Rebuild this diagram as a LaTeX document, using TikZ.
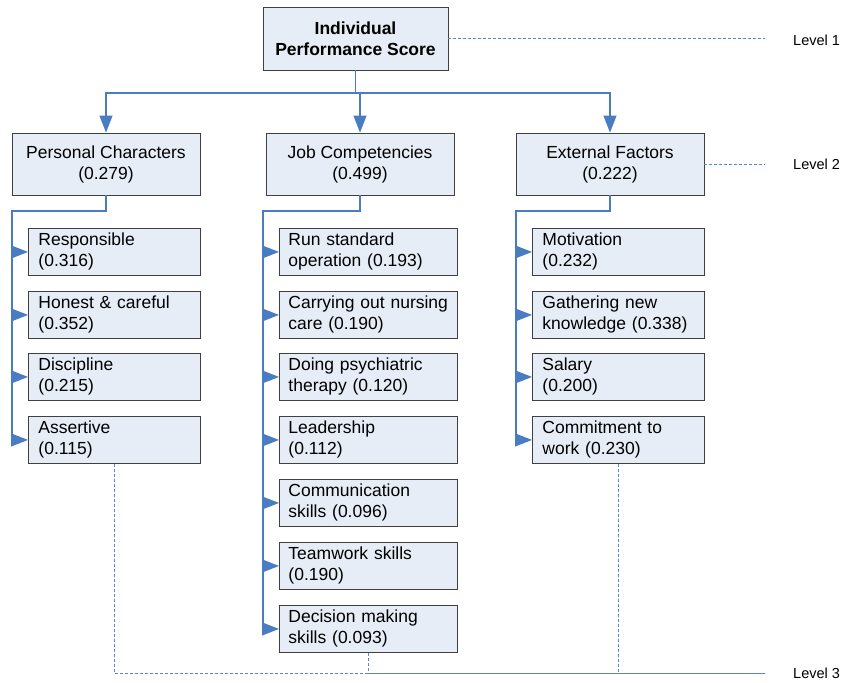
\documentclass[tikz,border=0pt]{standalone}
\usepackage{fontspec}
\setmainfont{Liberation Sans}
\usetikzlibrary{arrows.meta}
\definecolor{boxfill}{HTML}{E7EDF7}
\definecolor{boxline}{HTML}{404040}
\definecolor{linkblue}{HTML}{4A7CC4}
\definecolor{lvlblue}{HTML}{5B86CC}
\tikzset{
  box/.style={draw=boxline, line width=0.9pt, fill=boxfill, inner ysep=3pt,
    font=\fontsize{17.5}{21}\selectfont},
  topbox/.style={box, minimum width=185pt, minimum height=63pt, align=center,
    font=\fontsize{17.5}{21}\selectfont\bfseries},
  catbox/.style={box, minimum width=188pt, minimum height=62pt, align=center},
  leaf/.style={box, anchor=north west, minimum height=47pt, inner xsep=10pt,
    text width=152pt, align=left},
  leafwide/.style={leaf, inner xsep=9pt, text width=160pt},
  link/.style={draw=linkblue, line width=1.1pt},
  tip/.style={link, -{Triangle[length=17pt,width=13pt]}},
  lvl/.style={draw=lvlblue, line width=0.8pt, dash pattern=on 3pt off 2pt},
  lvllabel/.style={anchor=west, inner sep=0pt, font=\fontsize{14.5}{17}\selectfont}
}
\begin{document}
\begin{tikzpicture}[x=1pt,y=-1pt]
  \useasboundingbox (0,0) rectangle (844,683);
  % level 1
  \node[topbox] (ips) at (355.5,38.5) {Individual\\Performance Score};
  % level 2
  \node[catbox] (pers) at (106,164) {Personal Characters\\(0.279)};
  \node[catbox] (job) at (360,164) {Job Competencies\\(0.499)};
  \node[catbox] (ext) at (610,164) {External Factors\\(0.222)};
  % level 3
  \node[leaf] (resp) at (28,228) {Responsible\\(0.316)};
  \node[leaf] (hon) at (28,291) {Honest \& careful\\(0.352)};
  \node[leaf] (disc) at (28,353) {Discipline\\(0.215)};
  \node[leaf] (asrt) at (28,416) {Assertive\\(0.115)};
  \node[leafwide] (run) at (279,228) {Run standard\\operation (0.193)};
  \node[leafwide] (care) at (279,291) {Carrying out nursing\\care (0.190)};
  \node[leafwide] (psy) at (279,353) {Doing psychiatric\\therapy (0.120)};
  \node[leafwide] (lead) at (279,416) {Leadership\\(0.112)};
  \node[leafwide] (comm) at (279,479) {Communication\\skills (0.096)};
  \node[leafwide] (team) at (279,542) {Teamwork skills\\(0.190)};
  \node[leafwide] (deci) at (279,605) {Decision making\\skills (0.093)};
  \node[leaf] (moti) at (532,228) {Motivation\\(0.232)};
  \node[leaf] (gath) at (532,291) {Gathering new\\knowledge (0.338)};
  \node[leaf] (sal) at (532,353) {Salary\\(0.200)};
  \node[leaf] (cmt) at (532,416) {Commitment to\\work (0.230)};
  % bus points
  \coordinate (tbus) at (355.5,93);
  \coordinate (pbus) at (12,211);
  \coordinate (jbus) at (263,211);
  \coordinate (ebus) at (516,211);
  \foreach \c in {pers,job,ext}
    \draw[tip] (ips.south) |- (tbus) -| (\c);
  \foreach \c in {resp,hon,disc,asrt}
    \draw[tip] (pers.south) |- (pbus) |- (\c);
  \foreach \c in {run,care,psy,lead,comm,team,deci}
    \draw[tip] (job.south) |- (jbus) |- (\c);
  \foreach \c in {moti,gath,sal,cmt}
    \draw[tip] (ext.south) |- (ebus) |- (\c);
  % levels
  \node[lvllabel] (lv1) at (793,40) {Level 1};
  \node[lvllabel] (lv2) at (793,164) {Level 2};
  \node[lvllabel] (lv3) at (793,673) {Level 3};
  \coordinate (l1) at (765,38.5);
  \coordinate (l2) at (765,164);
  \coordinate (l3) at (765,673);
  \draw[lvl] (ips.east) -- (l1);
  \draw[lvl] (ext.east) -- (l2);
  \foreach \c in {asrt,deci,cmt}
    \draw[lvl] (\c.south) |- (l3);
\end{tikzpicture}
\end{document}
